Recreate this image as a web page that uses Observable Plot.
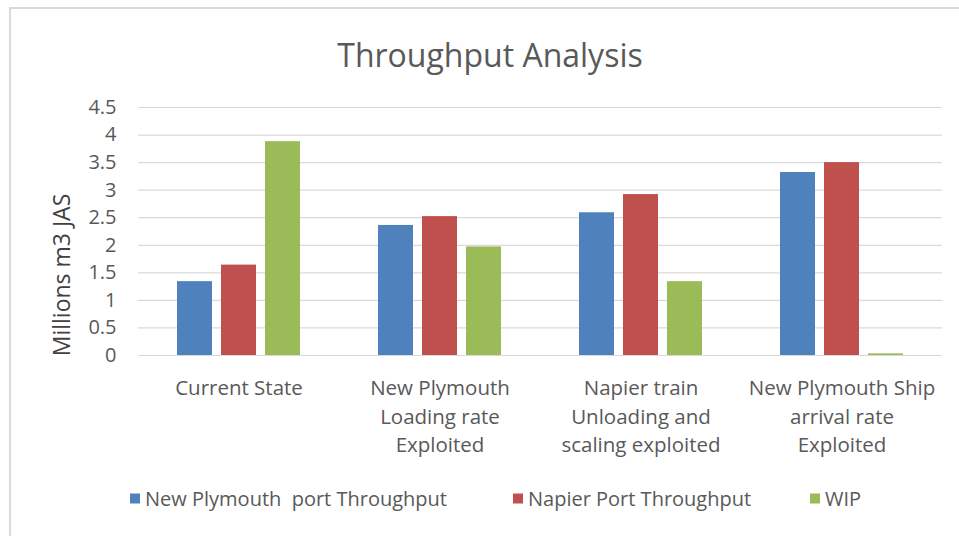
<!DOCTYPE html>
<html>
<head>
<meta charset="utf-8">
<script src="https://cdn.jsdelivr.net/npm/d3@7"></script>
<script src="https://cdn.jsdelivr.net/npm/@observablehq/plot@0.6"></script>
<style>
  html, body { margin: 0; padding: 0; background: #fff; }
  body { width: 959px; height: 536px; position: relative; overflow: hidden; font-family: "Open Sans", sans-serif; }
  #frame { position: absolute; left: 9px; top: 7px; width: 970px; height: 560px; border-left: 2px solid #d9d9d9; border-top: 2px solid #d9d9d9; box-sizing: border-box; }
  #chart { position: absolute; left: 0; top: 0; }
  #title { position: absolute; left: 490px; top: 54px; transform: translate(-50%, -50%); white-space: nowrap; font-size: 32px; color: #595959; }
  #ylabel { position: absolute; left: 61px; top: 275px; transform: translate(-50%, -50%) rotate(-90deg); white-space: nowrap; font-size: 23px; color: #404040; }
  #legend { position: absolute; top: 498px; left: 0; width: 959px; height: 0; font-size: 20px; color: #595959; }
  .item { position: absolute; top: 0; transform: translateY(-50%); display: flex; align-items: center; white-space: pre; }
  .sw { width: 10px; height: 10px; margin-right: 5px; }
</style>
</head>
<body>
<div id="frame"></div>
<div id="chart"></div>
<div id="title">Throughput Analysis</div>
<div id="ylabel">Millions m3 JAS</div>
<div id="legend"></div>
<script>
const categories = [
  "Current State",
  "New Plymouth\nLoading rate\nExploited",
  "Napier train\nUnloading and\nscaling exploited",
  "New Plymouth Ship\narrival rate\nExploited"
];
const seriesNames = ["New Plymouth  port Throughput", "Napier Port Throughput", "WIP"];
const seriesColors = ["#4f81bd", "#c0504d", "#9bbb59"];
const newPlymouthThroughput = [1.34, 2.36, 2.59, 3.32];
const napierThroughput = [1.64, 2.52, 2.92, 3.50];
const wip = [3.88, 1.97, 1.34, 0.03];
const yTicks = [0, 0.5, 1, 1.5, 2, 2.5, 3, 3.5, 4, 4.5];

const seriesValues = [newPlymouthThroughput, napierThroughput, wip];
const data = [];
categories.forEach((c, i) => {
  seriesNames.forEach((s, j) => data.push({category: c, series: s, value: seriesValues[j][i]}));
});

const chart = Plot.plot({
  width: 959,
  height: 536,
  marginTop: 107,
  marginBottom: 181,
  marginLeft: 136,
  marginRight: 16,
  style: {fontFamily: "Open Sans, sans-serif", background: "transparent", color: "#595959"},
  fx: {domain: categories, padding: 0, label: null},
  x: {domain: seriesNames, paddingInner: 0.21, paddingOuter: 0.87, axis: null},
  y: {domain: [0, 4.5], ticks: yTicks, label: null},
  color: {domain: seriesNames, range: seriesColors},
  marks: [
    Plot.gridY(yTicks, {stroke: "#d9d9d9", strokeOpacity: 1, strokeWidth: 1.2}),
    Plot.axisY(yTicks, {tickSize: 0, tickPadding: 22, fontSize: 20, fill: "#595959", tickFormat: d => String(d), label: null}),
    Plot.axisFx({anchor: "bottom", tickSize: 0, tickPadding: 19, fontSize: 20.5, lineHeight: 1.4, fill: "#595959", label: null}),
    Plot.barY(data, {fx: "category", x: "series", y: "value", fill: "series"}),
    Plot.ruleY([0], {stroke: "#d9d9d9", strokeWidth: 1.2})
  ]
});
document.getElementById("chart").appendChild(chart);

const legendX = [130, 513, 810];
const legend = document.getElementById("legend");
seriesNames.forEach((s, j) => {
  const item = document.createElement("div");
  item.className = "item";
  item.style.left = legendX[j] + "px";
  const sw = document.createElement("div");
  sw.className = "sw";
  sw.style.background = seriesColors[j];
  const t = document.createElement("span");
  t.textContent = s;
  item.appendChild(sw);
  item.appendChild(t);
  legend.appendChild(item);
});
</script>
</body>
</html>
